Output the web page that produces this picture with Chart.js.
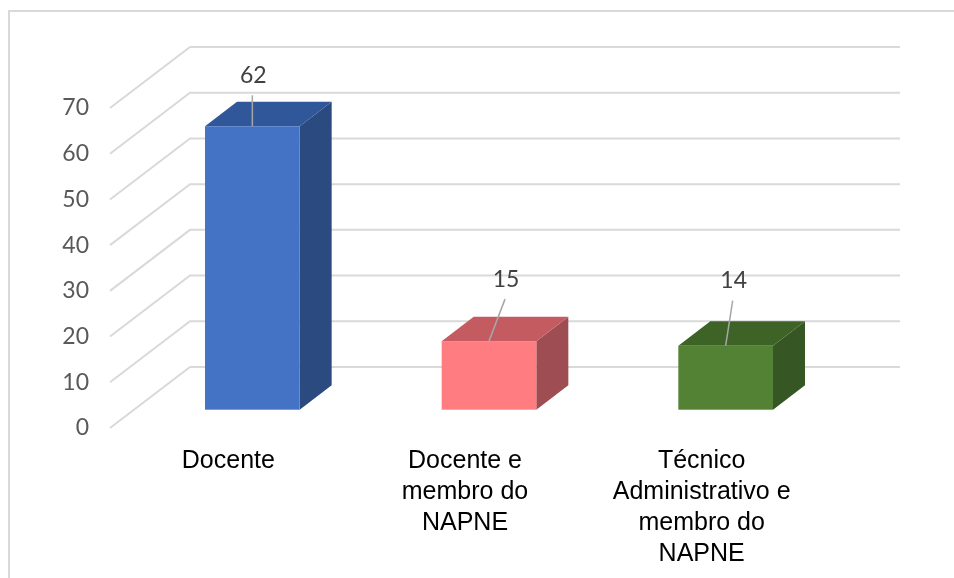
<!DOCTYPE html>
<html>
<head>
<meta charset="utf-8">
<script src="https://cdn.jsdelivr.net/npm/chart.js@4.4.1/dist/chart.umd.min.js"></script>
<style>
  html, body { margin: 0; padding: 0; background: #fff; }
  #wrap { width: 954px; height: 578px; }
</style>
</head>
<body>
<div id="wrap"><canvas id="chart"></canvas></div>
<script>
// categorias e valores
const categorias = [
  "Docente",
  ["Docente e", "membro do", "NAPNE"],
  ["Técnico", "Administrativo e", "membro do", "NAPNE"]
];
const valores = [62, 15, 14];
const yTicks = [0, 10, 20, 30, 40, 50, 60, 70];

// cores de cada barra: frente, topo, lateral
const corFrente = ["#4472C4", "#FF7C80", "#548235"];
const corTopo = ["#30579A", "#C35B60", "#3E6327"];
const corLado = ["#2A4A80", "#9E4E52", "#365623"];

// profundidade da parede e das barras
const WALL = { dx: 80, dy: -61 };
const BAR_FRONT = 0.3, BAR_BACK = 0.7;
// deslocamento das linhas de rotulo (fim da linha)
const leader = [[0, -31], [16, -42], [7, -45]];

const grid3d = {
  id: "grid3d",
  beforeDraw(chart) {
    const ctx = chart.ctx;
    ctx.save();
    ctx.strokeStyle = "#D9D9D9";
    ctx.lineWidth = 2;
    ctx.strokeRect(9, 11, 980, 620);
    ctx.restore();
  },
  beforeDatasetsDraw(chart) {
    const { ctx, chartArea } = chart;
    const y = chart.scales.y;
    ctx.save();
    ctx.strokeStyle = "#D9D9D9";
    ctx.lineWidth = 2;
    yTicks.forEach((t) => {
      const py = y.getPixelForValue(t);
      ctx.beginPath();
      ctx.moveTo(chartArea.left, py);
      ctx.lineTo(chartArea.left + WALL.dx, py + WALL.dy);
      ctx.lineTo(chartArea.right + WALL.dx, py + WALL.dy);
      ctx.stroke();
    });
    ctx.restore();
  },
  afterDatasetsDraw(chart) {
    const ctx = chart.ctx;
    const meta = chart.getDatasetMeta(0);
    const fx = WALL.dx * BAR_FRONT, fy = WALL.dy * BAR_FRONT;
    const bx = WALL.dx * (BAR_BACK - BAR_FRONT), by = WALL.dy * (BAR_BACK - BAR_FRONT);
    ctx.save();
    meta.data.forEach((bar, i) => {
      const p = bar.getProps(["x", "y", "base", "width"], true);
      const x0 = p.x - p.width / 2 + fx, x1 = p.x + p.width / 2 + fx;
      const yt = p.y + fy, yb = p.base + fy;
      // lateral
      ctx.fillStyle = corLado[i];
      ctx.beginPath();
      ctx.moveTo(x1, yt);
      ctx.lineTo(x1 + bx, yt + by);
      ctx.lineTo(x1 + bx, yb + by);
      ctx.lineTo(x1, yb);
      ctx.closePath();
      ctx.fill();
      // topo
      ctx.fillStyle = corTopo[i];
      ctx.beginPath();
      ctx.moveTo(x0, yt);
      ctx.lineTo(x1, yt);
      ctx.lineTo(x1 + bx, yt + by);
      ctx.lineTo(x0 + bx, yt + by);
      ctx.closePath();
      ctx.fill();
      // frente
      ctx.fillStyle = corFrente[i];
      ctx.fillRect(x0, yt, x1 - x0, yb - yt);

      // linha de chamada e rotulo de valor
      const cx = p.x + fx;
      const ex = cx + leader[i][0], ey = yt + leader[i][1];
      ctx.strokeStyle = "#A6A6A6";
      ctx.lineWidth = 1.5;
      ctx.beginPath();
      ctx.moveTo(cx, yt);
      ctx.lineTo(ex, ey);
      ctx.stroke();
      ctx.fillStyle = "#404040";
      ctx.font = "23px Lato";
      ctx.textAlign = "center";
      ctx.textBaseline = "middle";
      ctx.fillText(String(valores[i]), ex + 1, ey - 20);
    });
    ctx.restore();
  }
};

new Chart(document.getElementById("chart"), {
  type: "bar",
  data: {
    labels: categorias,
    datasets: [{
      data: valores,
      backgroundColor: "rgba(0,0,0,0)",
      borderWidth: 0,
      barPercentage: 0.4,
      categoryPercentage: 1
    }]
  },
  options: {
    responsive: true,
    maintainAspectRatio: false,
    animation: false,
    layout: { padding: { left: 10, right: 134, top: 108, bottom: 0 } },
    plugins: { legend: { display: false }, tooltip: { enabled: false } },
    scales: {
      x: {
        grid: { display: false, drawTicks: false },
        border: { display: false },
        ticks: {
          color: "#000",
          font: { family: "Liberation Sans", size: 25, lineHeight: 1.24 },
          padding: 18,
          maxRotation: 0,
          autoSkip: false
        },
        afterFit(scale) { scale.height = 150; }
      },
      y: {
        min: 0,
        max: 70,
        grid: { display: false, drawTicks: false },
        border: { display: false },
        ticks: {
          stepSize: 10,
          color: "#595959",
          font: { family: "Lato", size: 23 },
          padding: 21
        },
        afterFit(scale) { scale.width = 100; }
      }
    }
  },
  plugins: [grid3d]
});
</script>
</body>
</html>
